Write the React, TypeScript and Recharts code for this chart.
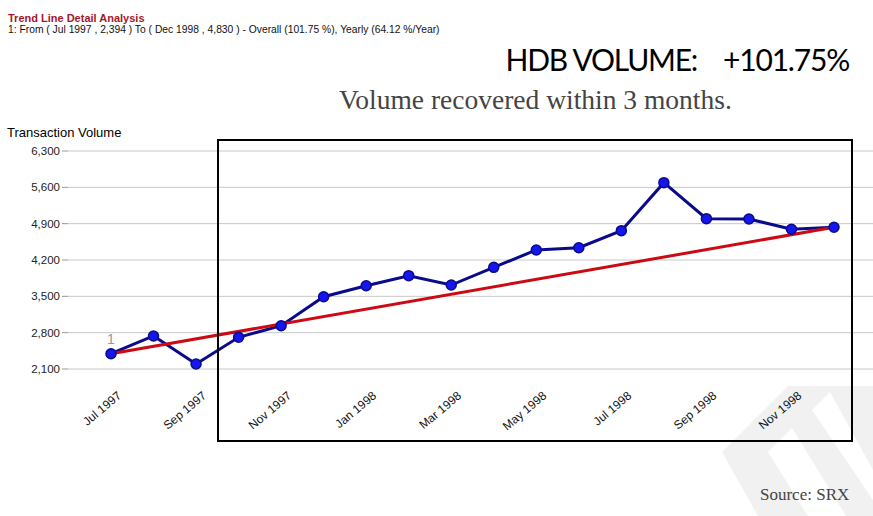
import { CartesianGrid, Line, LineChart, ReferenceDot, ReferenceLine, XAxis, YAxis } from 'recharts'

const months = [
  'Jul 1997', 'Aug 1997', 'Sep 1997', 'Oct 1997', 'Nov 1997', 'Dec 1997',
  'Jan 1998', 'Feb 1998', 'Mar 1998', 'Apr 1998', 'May 1998', 'Jun 1998',
  'Jul 1998', 'Aug 1998', 'Sep 1998', 'Oct 1998', 'Nov 1998', 'Dec 1998',
]
const volume = [
  2394, 2736, 2196, 2711, 2934, 3493,
  3705, 3898, 3718, 4059, 4393, 4437,
  4765, 5690, 4996, 4990, 4792, 4830,
]
const yTicks = [2100, 2800, 3500, 4200, 4900, 5600, 6300]
// trend line end points, from the header text
const trendFrom = { month: 'Jul 1997', value: 2394 }
const trendTo = { month: 'Dec 1998', value: 4830 }

const data = months.map((m, i) => ({ month: m, volume: volume[i] }))

const MonthTick = (props: any) => {
  const { x, y, payload } = props
  const tx = x + 11
  const ty = y + 20
  return (
    <text
      x={tx}
      y={ty}
      textAnchor="end"
      transform={`rotate(-40, ${tx}, ${ty})`}
      fontSize={12}
      fontFamily="Liberation Sans, Arial, sans-serif"
      fill="#111"
    >{payload.value}</text>
  )
}

export default function App() {
  return (
    <div style={{ position: 'absolute', left: 0, top: 0, width: 873, height: 516, background: '#fff', overflow: 'hidden' }}>
      {/* faint logo watermark */}
      <svg width={873} height={516} style={{ position: 'absolute', left: 0, top: 0 }}>
        <polygon points="722,452 788,386 873,386 873,516 758,516" fill="#f1f1f1" />
        <polygon points="768,452 792,428 846,516 808,516" fill="#fff" />
        <polygon points="812,410 830,392 873,470 873,500" fill="#fff" />
      </svg>

      <LineChart
        width={873}
        height={516}
        data={data}
        margin={{ top: 151, right: 0, bottom: 87, left: 0 }}
        style={{ position: 'absolute', left: 0, top: 0 }}
      >
        <CartesianGrid vertical={false} stroke="#c8c8c8" strokeWidth={1} />
        <XAxis
          dataKey="month"
          interval={1}
          tick={<MonthTick />}
          tickLine={false}
          axisLine={false}
          height={60}
          padding={{ left: 43, right: 39 }}
        />
        <YAxis
          domain={[2100, 6300]}
          ticks={yTicks}
          width={68}
          axisLine={false}
          tickLine={{ stroke: '#999' }}
          tickSize={6}
          tickFormatter={(v: number) => v.toLocaleString('en-US')}
          tick={{ fontSize: 11.5, fill: '#222', fontFamily: 'Liberation Sans, Arial, sans-serif' }}
        />
        <Line
          type="linear"
          dataKey="volume"
          stroke="#0b0b8a"
          strokeWidth={3}
          dot={{ r: 5, fill: '#1515ee', stroke: '#0b0b8a', strokeWidth: 1.5 }}
          isAnimationActive={false}
        />
        <ReferenceLine
          segment={[{ x: trendFrom.month, y: trendFrom.value }, { x: trendTo.month, y: trendTo.value }]}
          stroke="#cc0a14"
          strokeWidth={3}
          ifOverflow="visible"
        />
        <ReferenceDot
          x={trendFrom.month}
          y={trendFrom.value}
          r={0}
          fill="none"
          stroke="none"
          label={{ value: '1', position: 'top', offset: 10, fill: '#999', fontSize: 14, fontFamily: 'Liberation Sans, Arial, sans-serif' }}
        />
      </LineChart>

      <div style={{ position: 'absolute', left: 217, top: 139, width: 632, height: 299, border: '2px solid #000', pointerEvents: 'none' }} />

      <div style={{ position: 'absolute', left: 8, top: 13, fontFamily: 'Liberation Sans, Arial, sans-serif', lineHeight: '11px' }}>
        <div style={{ fontSize: 11, fontWeight: 'bold', color: '#a3182a' }}>Trend Line Detail Analysis</div>
        <div style={{ fontSize: 10.3, color: '#111' }}>1: From ( Jul 1997 , 2,394 ) To ( Dec 1998 , 4,830 ) - Overall (101.75 %), Yearly (64.12 %/Year)</div>
      </div>
      <div style={{ position: 'absolute', right: 24, top: 41, fontFamily: 'Lato, sans-serif', fontSize: 30, color: '#000', whiteSpace: 'pre', letterSpacing: -1.2 }}>
        {'HDB VOLUME:    +101.75%'}
      </div>
      <div style={{ position: 'absolute', left: 339, top: 84, fontFamily: 'Liberation Serif, serif', fontSize: 27.5, color: '#444', whiteSpace: 'pre' }}>
        Volume recovered within 3 months.
      </div>
      <div style={{ position: 'absolute', left: 7, top: 125, fontFamily: 'Liberation Sans, Arial, sans-serif', fontSize: 13, color: '#000' }}>
        Transaction Volume
      </div>
      <div style={{ position: 'absolute', left: 760, top: 485, fontFamily: 'Liberation Serif, serif', fontSize: 17, color: '#444' }}>
        Source: SRX
      </div>
    </div>
  )
}
